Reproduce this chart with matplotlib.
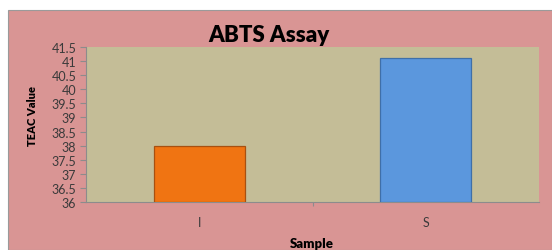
import matplotlib.pyplot as plt
from matplotlib.patches import Rectangle

# ABTS assay data
samples = ["I", "S"]
teac_values = [38.0, 41.1]
bar_colors = ["#F07412", "#5B97DD"]
edge_colors = ["#A85010", "#3F6FA8"]
y_ticks = [36, 36.5, 37, 37.5, 38, 38.5, 39, 39.5, 40, 40.5, 41, 41.5]

plt.rcParams['font.family'] = ['Lato', 'DejaVu Sans']

W, H = 552, 251
fig = plt.figure(figsize=(W / 100, H / 100), dpi=100, facecolor="white")

# pink chart background
fig.patches.append(Rectangle((8 / W, 0), 1 - 8 / W, (H - 10.5) / H,
                             transform=fig.transFigure, facecolor="#D99594",
                             edgecolor="#9A9A9A", linewidth=0.8, zorder=-5))

ax = fig.add_axes([86 / W, (H - 203) / H, (539 - 86) / W, (203 - 48) / H])
ax.set_facecolor("#C4BD97")

x = range(len(samples))
ax.bar(x, [v - 36 for v in teac_values], bottom=36, width=0.4,
       color=bar_colors, edgecolor=edge_colors, linewidth=0.9, zorder=3)

ax.set_xlim(-0.5, 1.5)
ax.set_ylim(36, 41.5)
ax.set_yticks(y_ticks)
ax.set_yticklabels([f"{t:g}" for t in y_ticks], fontsize=9, color="#3A3A3A")
ax.set_xticks([0.5])
ax.set_xticklabels([""])
for i, s in enumerate(samples):
    ax.text(i, 35.3, s, ha="center", va="center", fontsize=9, color="#3A3A3A")
ax.tick_params(axis="y", length=4, color="#8C8C8C", pad=3)
ax.tick_params(axis="x", length=3, color="#8C8C8C")

for side in ["top", "right"]:
    ax.spines[side].set_visible(False)
ax.spines["left"].set_color("#8C8C8C")
ax.spines["bottom"].set_color("#8C8C8C")
ax.spines["left"].set_linewidth(0.8)
ax.spines["bottom"].set_linewidth(0.8)

fig.text(269 / W, 1 - 36 / H, "ABTS Assay", ha="center", va="center",
         fontsize=16, fontweight="heavy")
fig.text(32 / W, 1 - 116 / H, "TEAC Value", ha="center", va="center",
         rotation=90, fontsize=8, fontweight="heavy")
fig.text(311.5 / W, 1 - 244 / H, "Sample", ha="center", va="center",
         fontsize=9.5, fontweight="heavy")

fig.savefig("out.png", dpi=100)
